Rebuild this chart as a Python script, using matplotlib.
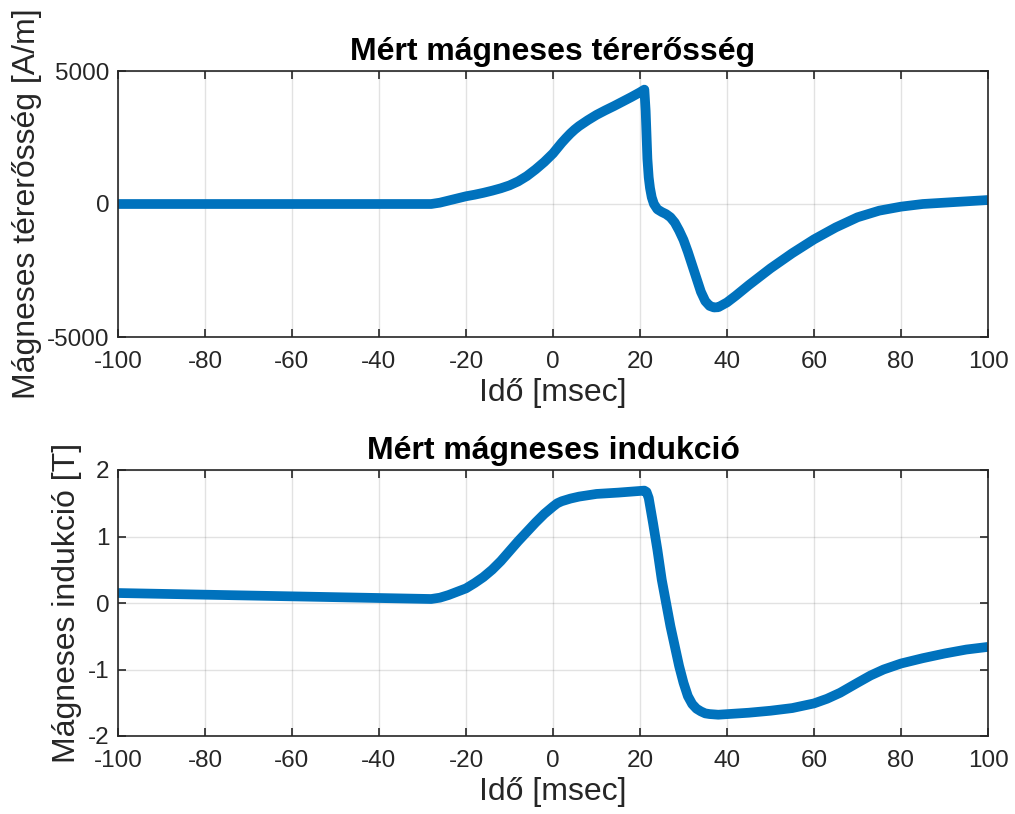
import matplotlib
matplotlib.use("Agg")
import matplotlib.pyplot as plt

plt.rcParams['font.family'] = ['Liberation Sans', 'DejaVu Sans']
plt.rcParams['axes.unicode_minus'] = False

# Top: measured magnetic field strength [A/m]
t_h = [-100, -60, -28, -26, -24, -22, -20, -18, -16, -14, -12, -10, -8, -6, -4, -2, 0, 1, 2, 3, 4, 5, 6, 7, 8,
       10, 12, 14, 16, 18, 20, 21, 21.3, 21.5, 21.7, 22, 22.3, 22.7, 23.2, 24, 25, 26, 27, 28, 29, 30, 31, 32,
       33, 34, 35, 36, 37, 38, 40, 42, 45, 50, 55, 60, 65, 70, 75, 80, 85, 90, 95, 100]
h_vals = [0, 0, 0, 50, 130, 210, 290, 350, 420, 500, 590, 700, 850, 1050, 1300, 1580, 1900, 2100, 2300, 2480, 2650, 2800, 2930, 3040, 3150,
          3350, 3520, 3680, 3850, 4020, 4200, 4300, 3500, 2600, 1700, 1000, 600, 250, 0, -200, -300, -380, -500, -700, -1000, -1350, -1800, -2300,
          -2800, -3300, -3650, -3830, -3890, -3880, -3700, -3450, -3050, -2420, -1850, -1330, -880, -500, -250, -100, 0, 50, 100, 150]

# Bottom: measured magnetic induction [T]
t_b = [-100, -28, -26, -24, -22, -20, -18, -16, -14, -12, -10, -8, -6, -4, -2, 0, 1, 2, 4, 6, 10, 15, 21, 21.5, 22,
       23, 24, 25, 26, 27, 28, 29, 30, 31, 32, 33, 34, 35, 36, 38, 45, 50, 55, 60, 63, 66, 70, 73, 76, 80, 85, 90, 95, 100]
b_vals = [0.15, 0.06, 0.08, 0.12, 0.17, 0.22, 0.30, 0.39, 0.50, 0.63, 0.78, 0.93, 1.07, 1.21, 1.34, 1.45, 1.50, 1.53, 1.57, 1.60, 1.64, 1.66, 1.69, 1.67, 1.58,
          1.2, 0.8, 0.35, 0.0, -0.35, -0.65, -0.95, -1.2, -1.4, -1.52, -1.59, -1.63, -1.66, -1.67, -1.68, -1.65, -1.62, -1.58, -1.51, -1.44, -1.35, -1.2, -1.09, -1.0, -0.91, -0.83, -0.76, -0.70, -0.66]

xticks = [-100, -80, -60, -40, -20, 0, 20, 40, 60, 80, 100]
yticks_h = [-5000, 0, 5000]
yticks_b = [-2, -1, 0, 1, 2]

color = '#0072BD'
fig = plt.figure(figsize=(10.15, 8.14), dpi=100)
W, H = 1015, 814

def make_ax(top_px, bottom_px):
    return fig.add_axes([118 / W, 1 - bottom_px / H, 870 / W, (bottom_px - top_px) / H])

ax1 = make_ax(71, 337)
ax2 = make_ax(470, 736)

for ax, t, v, yt, ylim, title, ylabel in [
    (ax1, t_h, h_vals, yticks_h, (-5000, 5000), 'Mért mágneses térerősség', 'Mágneses térerősség [A/m]'),
    (ax2, t_b, b_vals, yticks_b, (-2, 2), 'Mért mágneses indukció', 'Mágneses indukció [T]'),
]:
    ax.plot(t, v, color=color, lw=7, solid_capstyle='butt', solid_joinstyle='round')
    ax.set_xlim(-100, 100)
    ax.set_ylim(*ylim)
    ax.set_xticks(xticks)
    ax.set_yticks(yt)
    ax.grid(True, color='#262626', alpha=0.13, lw=1)
    ax.set_axisbelow(True)
    ax.tick_params(direction='in', top=True, right=True, length=6, width=1.2,
                   labelsize=17.5, colors='#262626')
    ax.tick_params(axis='x', pad=10)
    ax.tick_params(axis='y', pad=6)
    for s in ax.spines.values():
        s.set_color('#262626')
        s.set_linewidth(1.2)
    ax.set_title(title, fontsize=23, fontweight='bold', pad=8)
    ax.set_xlabel('Idő [msec]', fontsize=23, color='#262626', labelpad=4)
    ax.set_ylabel(ylabel, fontsize=23, color='#262626', labelpad=4)

fig.savefig('out.png', dpi=100)
